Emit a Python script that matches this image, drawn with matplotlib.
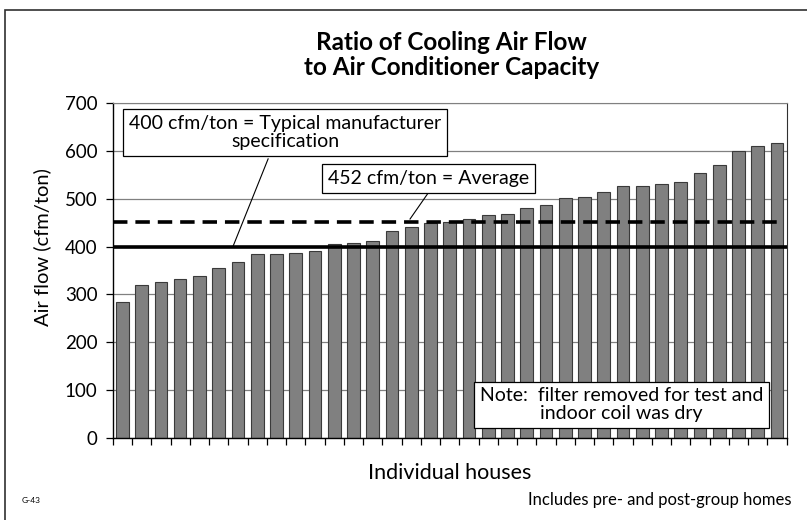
import numpy as np
import matplotlib.pyplot as plt
from matplotlib.patches import Rectangle

plt.rcParams['font.family'] = ['Lato', 'DejaVu Sans']

# air flow per ton of cooling, one bar per house, sorted low to high
houses = np.arange(35)
cfm_per_ton = [284, 319, 327, 332, 339, 355, 367, 384, 384, 386,
               390, 406, 408, 412, 433, 441, 450, 451, 459, 467,
               469, 482, 487, 503, 505, 514, 528, 528, 531, 536,
               554, 572, 600, 610, 618]
spec_value = 400
avg_value = 452

fig = plt.figure(figsize=(8.07, 5.2), dpi=100)
ax = fig.add_axes([0.1397, 0.1583, 0.8351, 0.6427])

ax.bar(houses, cfm_per_ton, width=0.66, color='#808080',
       edgecolor='#3a3a3a', linewidth=0.8, zorder=2)

ax.axhline(spec_value, color='black', lw=2.6, zorder=3)
ax.hlines(avg_value, -0.5, 34.2, colors='black', lw=2.6,
          linestyles=(0, (4, 2.2)), zorder=3)

ax.set_xlim(-0.5, 34.5)
ax.set_ylim(0, 700)
ax.set_yticks(range(0, 701, 100))
ax.yaxis.grid(True, color='#808080', lw=0.9, zorder=0)
ax.set_xticks(np.arange(-0.5, 35, 1))
ax.set_xticklabels([])
ax.tick_params(axis='x', direction='out', length=5, width=0.9, color='black')
ax.tick_params(axis='y', direction='out', length=5, width=0.9,
               labelsize=13.5, pad=6)

for side in ['top', 'right']:
    ax.spines[side].set_color('#808080')
ax.spines['right'].set_color('#303030')
ax.spines['left'].set_linewidth(1.0)
ax.spines['bottom'].set_linewidth(1.0)

ax.set_ylabel('Air flow (cfm/ton)', fontsize=14.5, labelpad=12)
ax.yaxis.set_label_coords(-0.092, 0.57)
ax.set_xlabel('Individual houses', fontsize=15.5, labelpad=10)

box = dict(boxstyle='square,pad=0.3', fc='white', ec='black', lw=0.9)
ax.text(8.46, 639, '400 cfm/ton = Typical manufacturer\nspecification',
        ha='center', va='center', fontsize=14, linespacing=1.12,
        bbox=box, zorder=5)
ax.text(15.9, 543, '452 cfm/ton = Average', ha='center', va='center',
        fontsize=14, bbox=box, zorder=5)
ax.text(25.93, 69, 'Note:  filter removed for test and\nindoor coil was dry',
        ha='center', va='center', fontsize=14, linespacing=1.05,
        bbox=box, zorder=5)

# leader lines from the boxes to the reference lines
ax.plot([7.57, 5.76], [584, 402], color='black', lw=0.8, zorder=4)
ax.plot([15.89, 14.94], [513, 458], color='black', lw=0.8, zorder=4)

fig.text(0.560, 0.895, 'Ratio of Cooling Air Flow\nto Air Conditioner Capacity',
         ha='center', va='center', fontsize=17.5, fontweight='bold',
         linespacing=1.1)
fig.text(0.981, 0.038, 'Includes pre- and post-group homes', ha='right',
         va='center', fontsize=12)
fig.text(0.027, 0.038, 'G-43', ha='left', va='center', fontsize=6)

# outer frame around the whole chart
fig.patches.append(Rectangle((0.0056, -0.1), 1.2, 1.0817, transform=fig.transFigure,
                             fill=False, ec='#303030', lw=1.2))

fig.savefig('out.png', dpi=100)
